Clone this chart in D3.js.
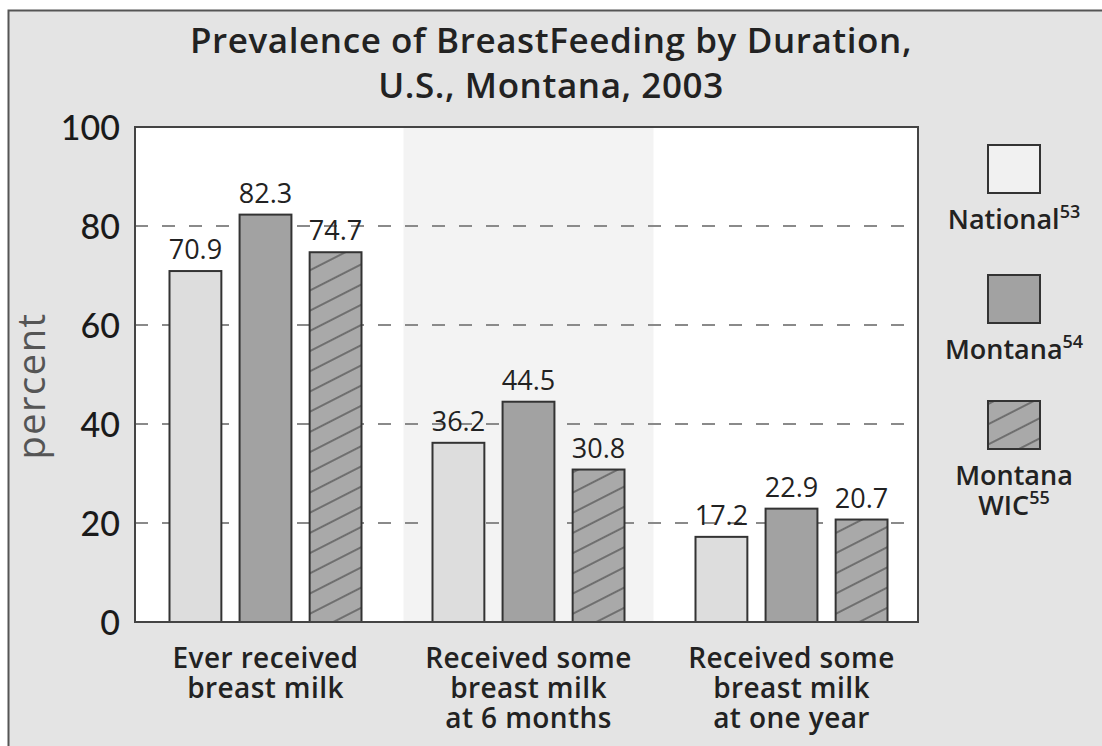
<!DOCTYPE html>
<html lang="en">
<head>
<meta charset="UTF-8">
<title>Breastfeeding prevalence</title>
<script src="https://d3js.org/d3.v7.min.js"></script>
<style>
  body { margin: 0; background: #fff; }
  svg { display: block; font-family: "Open Sans", Lato, sans-serif; }
</style>
</head>
<body>
<svg width="1102" height="746"></svg>
<script>

const categories = [
  ["Ever received", "breast milk"],
  ["Received some", "breast milk", "at 6 months"],
  ["Received some", "breast milk", "at one year"]
];
const series = ["National", "Montana", "Montana WIC"];
const legendLabels = [["National", "53"], ["Montana", "54"], ["Montana", "WIC", "55"]];
const national = [70.9, 36.2, 17.2];
const montana = [82.3, 44.5, 22.9];
const montanaWic = [74.7, 30.8, 20.7];
const yTicks = [0, 20, 40, 60, 80, 100];

const values = [national, montana, montanaWic];
const fills = ["#dddddd", "#a2a2a2", "url(#hatch)"];

const svg = d3.select("svg");
const plot = { left: 135, top: 127, right: 918, bottom: 622 };

// page background + frame
svg.append("rect").attr("x", 8.5).attr("y", 10.5).attr("width", 1110).attr("height", 760)
  .attr("fill", "#e4e4e4").attr("stroke", "#555").attr("stroke-width", 2);

const defs = svg.append("defs");
const pat = defs.append("pattern").attr("id", "hatch").attr("patternUnits", "userSpaceOnUse")
  .attr("width", 20).attr("height", 18).attr("patternTransform", "rotate(-27)");
pat.append("rect").attr("width", 20).attr("height", 18).attr("fill", "#a9a9a9");
pat.append("line").attr("x1", 0).attr("x2", 20).attr("y1", 9).attr("y2", 9)
  .attr("stroke", "#6f6f6f").attr("stroke-width", 2);

const x0 = d3.scaleBand().domain(d3.range(categories.length))
  .range([plot.left - 1, plot.left - 1 + 3 * 263]);
const x1 = d3.scaleBand().domain(series).range([-96, 96]).paddingInner(0.26);
const y = d3.scaleLinear().domain([0, 100]).range([plot.bottom, plot.top]);

// plot area
svg.append("rect").attr("x", plot.left).attr("y", plot.top)
  .attr("width", plot.right - plot.left).attr("height", plot.bottom - plot.top)
  .attr("fill", "#fff");
svg.append("rect").attr("x", x0(1) + x0.bandwidth() / 2 - 125).attr("y", plot.top)
  .attr("width", 250).attr("height", plot.bottom - plot.top).attr("fill", "#f3f3f3");

// dashed gridlines
svg.append("g").selectAll("line").data(yTicks.filter(t => t > 0 && t < 100)).join("line")
  .attr("x1", plot.left).attr("x2", plot.right)
  .attr("y1", d => y(d)).attr("y2", d => y(d))
  .attr("stroke", "#8a8a8a").attr("stroke-width", 2).attr("stroke-dasharray", "13,14");

// y axis labels
const yAxis = d3.axisLeft(y).tickValues(yTicks).tickSize(0).tickPadding(15);
const yG = svg.append("g").attr("transform", `translate(${plot.left},0)`).call(yAxis);
yG.select(".domain").remove();
yG.selectAll("text").attr("font-size", 34).attr("font-family", "Lato, sans-serif")
  .attr("font-weight", 500).attr("fill", "#1a1a1a").attr("dy", "0.36em");

svg.append("text").attr("transform", "translate(45,386) rotate(-90)")
  .attr("text-anchor", "middle").attr("font-size", 38).attr("letter-spacing", 1.5)
  .attr("fill", "#555").text("percent");

// bars
const groups = svg.append("g").selectAll("g").data(categories).join("g")
  .attr("transform", (d, i) => `translate(${x0(i) + x0.bandwidth() / 2},0)`);

groups.each(function (cat, i) {
  const g = d3.select(this);
  series.forEach((s, k) => {
    const v = values[k][i];
    g.append("rect").attr("x", x1(s)).attr("y", y(v))
      .attr("width", x1.bandwidth()).attr("height", y(0) - y(v))
      .attr("fill", fills[k]).attr("stroke", "#333").attr("stroke-width", 2);
    g.append("text").attr("x", x1(s) + x1.bandwidth() / 2).attr("y", y(v) - 12)
      .attr("text-anchor", "middle").attr("font-size", 27)
      .attr("fill", "#222").text(v.toFixed(1));
  });
  cat.forEach((ln, j) => {
    g.append("text").attr("text-anchor", "middle").attr("font-size", 28)
      .attr("letter-spacing", 0.4).attr("font-weight", 600).attr("fill", "#222")
      .attr("x", 0).attr("y", 668 + j * 30).text(ln);
  });
});

// plot frame
svg.append("rect").attr("x", plot.left).attr("y", plot.top)
  .attr("width", plot.right - plot.left).attr("height", plot.bottom - plot.top)
  .attr("fill", "none").attr("stroke", "#444").attr("stroke-width", 2);

// title
svg.append("text").attr("text-anchor", "middle").attr("font-size", 35)
  .attr("letter-spacing", 0.6).attr("font-weight", 600).attr("fill", "#222")
  .selectAll("tspan").data(["Prevalence of BreastFeeding by Duration,", "U.S., Montana, 2003"])
  .join("tspan").attr("x", 551).attr("y", (d, i) => 53 + i * 45).text(d => d);

// legend
const legendFills = ["#f1f1f1", "#a2a2a2", "url(#hatch)"];
const legendTop = [145, 275, 401];
const legend = svg.append("g").selectAll("g").data(legendLabels).join("g")
  .attr("transform", (d, i) => `translate(1014,${legendTop[i]})`);
legend.append("rect").attr("x", -26).attr("y", 0).attr("width", 52).attr("height", 48)
  .attr("fill", (d, i) => legendFills[i]).attr("stroke", "#333").attr("stroke-width", 2);
legend.each(function (lab) {
  const g = d3.select(this);
  const lines = lab.slice(0, -1);
  const sup = lab[lab.length - 1];
  lines.forEach((ln, j) => {
    const t = g.append("text").attr("text-anchor", "middle").attr("x", 0)
      .attr("y", 84 + j * 30).attr("font-size", 27).attr("font-weight", 600)
      .attr("fill", "#222");
    t.append("tspan").text(ln);
    if (j === lines.length - 1) {
      t.append("tspan").attr("dy", -11).attr("font-size", 18).text(sup);
    }
  });
});

</script>
</body>
</html>
